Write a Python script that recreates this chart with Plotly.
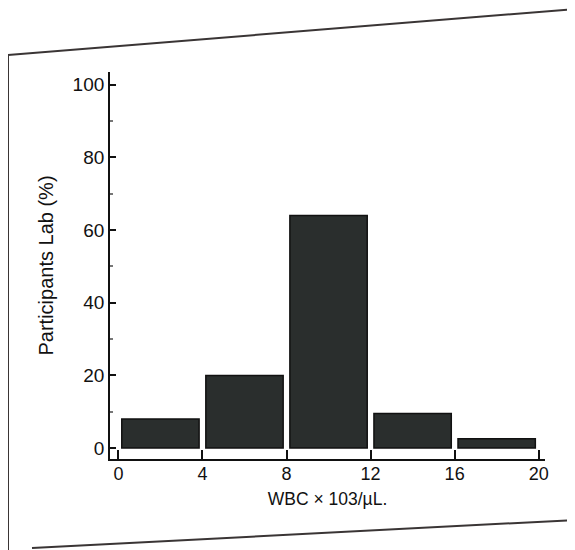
import plotly.graph_objects as go

# Data
bin_starts = [0, 4, 8, 12, 16]
bin_width = 4
participants_pct = [8, 20, 64, 9.5, 2.6]
x_tick_vals = [0, 4, 8, 12, 16, 20]
y_tick_vals = [0, 20, 40, 60, 80, 100]

W, H = 575, 550
OFF = 8  # page body offset
ML, MR, MT, MB = 110 - OFF, 38, 72 - OFF, 99
PW, PH = W - ML - MR, H - MT - MB


def px(x, y):
    x -= OFF
    y -= OFF
    return (x - ML) / PW, (H - MB - y) / PH


FONT = "Liberation Sans Narrow, Liberation Sans, Arial, sans-serif"

fig = go.Figure()
fig.add_trace(go.Bar(
    x=[s + bin_width / 2 for s in bin_starts],
    y=participants_pct,
    width=[bin_width * 0.92] * len(bin_starts),
    marker=dict(color="#2a2e2d", line=dict(color="#111111", width=1.5)),
    showlegend=False,
    hoverinfo="skip",
))

frame_lines = [((8, 55), (575, 9)), ((8, 55), (8, 550)), ((32, 548), (575, 520))]
shapes = []
for (x0, y0), (x1, y1) in frame_lines:
    a0, b0 = px(x0, y0)
    a1, b1 = px(x1, y1)
    shapes.append(dict(type="line", xref="paper", yref="paper", x0=a0, y0=b0, x1=a1, y1=b1,
                       line=dict(color="#3a3535", width=2)))

fig.update_layout(
    width=W, height=H,
    margin=dict(l=ML, r=MR, t=MT, b=MB),
    paper_bgcolor="white", plot_bgcolor="white",
    font=dict(family=FONT, size=18, color="#111111"),
    shapes=shapes,
    xaxis=dict(
        range=[-0.4, 20.3], tickvals=x_tick_vals, ticks="inside", ticklen=9, tickwidth=1.5,
        tickcolor="#111111", showline=True, linecolor="#111111", linewidth=1.8,
        showgrid=False, zeroline=False, ticklabelstandoff=-3,
        tickfont=dict(size=18),
        title=dict(text="WBC × 103/µL.", font=dict(size=17.5), standoff=10),
    ),
    yaxis=dict(
        range=[-3, 103.5], tickvals=y_tick_vals, ticks="inside", ticklen=6, tickwidth=1.5,
        tickcolor="#111111", showline=True, linecolor="#111111", linewidth=1.8,
        showgrid=False, zeroline=False, ticklabelstandoff=0,
        tickfont=dict(size=19),
        minor=dict(tickvals=[10, 30, 50, 70, 90], ticks="inside", ticklen=3, tickcolor="#777777"),
        title=dict(text="Participants Lab (%)", font=dict(size=20), standoff=14),
    ),
)

fig.write_html("out.html")
